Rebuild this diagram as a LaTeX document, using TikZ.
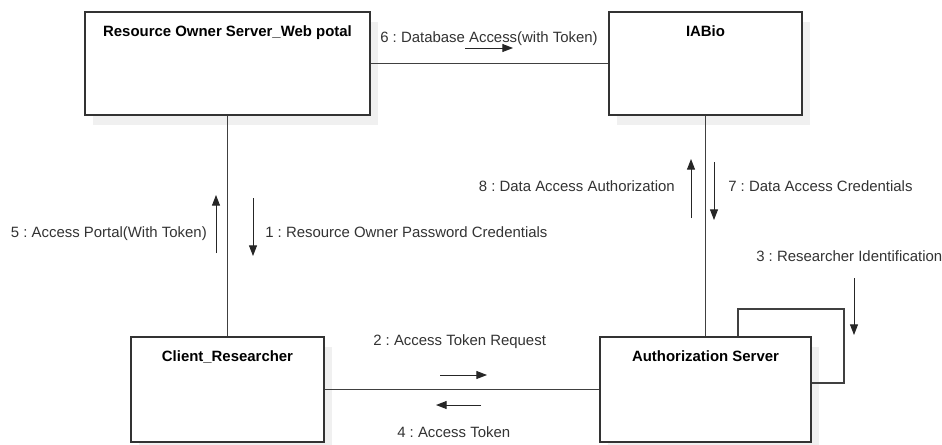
\documentclass[tikz,border=0pt]{standalone}
\usepackage{fontspec}
\setmainfont{Liberation Sans}
\usetikzlibrary{arrows.meta,positioning,fit,calc,shadows}
\frenchspacing

\tikzset{
  obj/.style={draw=black!80, line width=0.8pt, fill=white, inner sep=0pt,
    general shadow={fill=black!6, shadow xshift=6pt, shadow yshift=-7.5pt}},
  objname/.style={font=\fontsize{11.2}{13}\selectfont\bfseries, inner sep=0pt, anchor=base},
  msglabel/.style={font=\fontsize{11.2}{13}\selectfont, text=black!80, inner sep=0pt},
  link/.style={draw=black!75, line width=0.8pt},
  msg/.style={draw=black!85, line width=0.7pt, -{Triangle[length=8pt,width=6pt]}}
}

\begin{document}
\begin{tikzpicture}[x=0.75pt,y=-0.75pt]
        \useasboundingbox[fill=white] (0,0) rectangle (942,444);
        % Objects
        \node[obj, fit={(85,12) (370,115)}] (ro) {};
        \node[obj, fit={(609,12) (802,115)}] (iab) {};
        \node[obj, fit={(131,337) (324,442)}] (cli) {};
        % self link of the authorization server
        \coordinate (loopTR) at (844,309);
        \coordinate (loopBR) at (844,383);
        \node[obj, fit={(600,337) (811,442)}] (auth) {};
        \node[objname] (roName) at ($(ro.north)+(0,25)$) {Resource Owner Server\_Web potal};
        \node[objname] (iabName) at ($(iab.north)+(0,25)$) {IABio};
        \node[objname] (cliName) at ($(cli.north)+(0,25)$) {Client\_Researcher};
        \node[objname] (authName) at ($(auth.north)+(0,25)$) {Authorization Server};
        % Links
        \draw[link] (ro) -- (iab);
        \draw[link] (ro) -- (cli);
        \draw[link] (iab) -- (auth);
        \draw[link] (cli) -- (auth);
        \draw[link] ($(auth.north)+(32.5,0)$) |- (loopTR) -- (loopBR) -- (loopBR -| auth.east);
        % Messages
        \node[msglabel, anchor=base west] (m6) at (380,42) {6 : Database Access(with Token)};
        \draw[msg] (465,48) -- (513,48);
        \node[msglabel, anchor=base east] (m5) at (207,237) {5 : Access Portal(With Token)};
        \draw[msg] (216,253) -- (216,195);
        \node[msglabel, anchor=base west] (m1) at (265,237) {1 : Resource Owner Password Credentials};
        \draw[msg] (253,198) -- (253,256);
        \node[msglabel, anchor=base east] (m8) at (675,191.5) {8 : Data Access Authorization};
        \draw[msg] (691,218) -- (691,159);
        \node[msglabel, anchor=base west] (m7) at (728,191.5) {7 : Data Access Credentials};
        \draw[msg] (714,162) -- (714,220);
        \node[msglabel, anchor=base west] (m3) at (756,261) {3 : Researcher Identification};
        \draw[msg] (854,278) -- (854,335);
        \node[msglabel, anchor=base west] (m2) at (373,345.5) {2 : Access Token Request};
        \draw[msg] (440,375) -- (487,375);
        \node[msglabel, anchor=base west] (m4) at (397,437) {4 : Access Token};
        \draw[msg] (481,405) -- (436,405);
\end{tikzpicture}
\end{document}
